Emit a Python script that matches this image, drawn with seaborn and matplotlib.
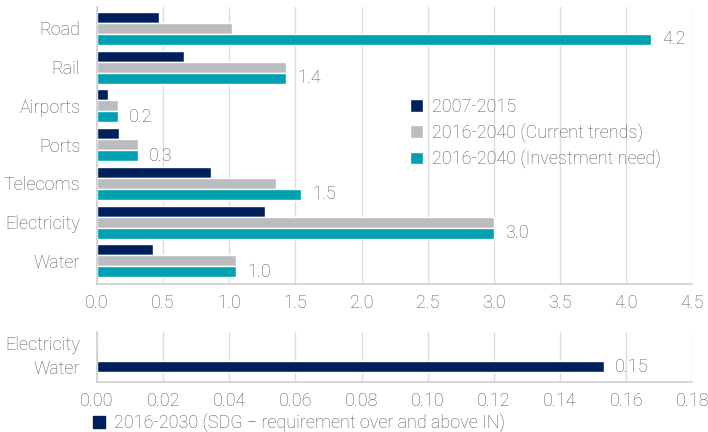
import pandas as pd
import seaborn as sns
import matplotlib.pyplot as plt

# valores
setores = ['Road', 'Rail', 'Airports', 'Ports', 'Telecoms', 'Electricity', 'Water']
periodos = ['2007-2015', '2016-2040 (Current trends)', '2016-2040 (Investment need)']
hist_2007_2015 = [0.47, 0.66, 0.08, 0.17, 0.86, 1.27, 0.42]
tendencia_2016_2040 = [1.02, 1.43, 0.16, 0.31, 1.35, 3.00, 1.05]
necessidade_2016_2040 = [4.19, 1.43, 0.16, 0.31, 1.54, 3.00, 1.05]
rotulos_necessidade = ['4.2', '1.4', '0.2', '0.3', '1.5', '3.0', '1.0']

setores_sdg = ['Electricity', 'Water']
sdg_2016_2030 = [0.0, 0.1532]
rotulos_sdg = ['', '0.15']
serie_sdg = '2016-2030 (SDG \u2212 requirement over and above IN)'

cores = ['#00205B', '#BBBCC0', '#00A0B0']
cinza_texto = '#595959'
cinza_grade = '#DEDEDE'
fs = 13

sns.set_theme(style='white')
plt.rcParams['font.family'] = ['Roboto', 'DejaVu Sans']
plt.rcParams['font.weight'] = 'light'

df = pd.DataFrame({
    'setor': setores * 3,
    'periodo': [p for p in periodos for _ in setores],
    'valor': hist_2007_2015 + tendencia_2016_2040 + necessidade_2016_2040,
})
df_sdg = pd.DataFrame({'setor': setores_sdg, 'valor': sdg_2016_2030})

fig = plt.figure(figsize=(7.08, 4.32), dpi=100)
ax_top = fig.add_axes([0.137, 0.343, 0.841, 0.641])
ax_bot = fig.add_axes([0.137, 0.116, 0.841, 0.116])

sns.barplot(data=df, y='setor', x='valor', hue='periodo', order=setores,
            hue_order=periodos, palette=cores, width=0.85, orient='h',
            saturation=1, ax=ax_top)
ax_top.bar_label(ax_top.containers[2], labels=rotulos_necessidade, padding=8,
                 color=cinza_texto, fontsize=fs, fontweight='light')

sns.barplot(data=df_sdg, y='setor', x='valor', order=setores_sdg,
            color=cores[0], width=0.46, orient='h', saturation=1, ax=ax_bot)
ax_bot.bar_label(ax_bot.containers[0], labels=rotulos_sdg, padding=8,
                 color=cinza_texto, fontsize=fs, fontweight='light')

for ax in (ax_top, ax_bot):
    ax.set_xlabel('')
    ax.set_ylabel('')
    ax.grid(axis='x', color=cinza_grade, linewidth=1)
    ax.grid(axis='y', visible=False)
    ax.set_axisbelow(True)
    for s in ('top', 'right'):
        ax.spines[s].set_visible(False)
    for s in ('left', 'bottom'):
        ax.spines[s].set_color('#CFCFCF')
        ax.spines[s].set_linewidth(1.2)
    ax.tick_params(axis='x', length=4, color='#CFCFCF', labelsize=fs,
                   labelcolor=cinza_texto, pad=3)
    ax.tick_params(axis='y', length=0, labelsize=fs, labelcolor=cinza_texto, pad=12)

ax_top.set_xlim(0, 4.5)
ax_top.set_xticks([i * 0.5 for i in range(10)])
ax_top.set_xticklabels([f'{i * 0.5:.1f}' for i in range(10)])
ax_top.set_ylim(6.59, -0.555)

ax_bot.set_xlim(0, 0.18)
ax_bot.set_xticks([i * 0.02 for i in range(10)])
ax_bot.set_xticklabels([f'{i * 0.02:.2f}' for i in range(10)])
ax_bot.set_ylim(1.63, -0.46)

ax_top.legend(loc='upper left', bbox_to_anchor=(0.514, 0.697), frameon=False,
              handlelength=0.7, handleheight=0.7, handletextpad=0.5,
              labelspacing=0.4, fontsize=fs, labelcolor=cinza_texto,
              borderaxespad=0)

h = plt.Rectangle((0, 0), 1, 1, color=cores[0])
fig.legend([h], [serie_sdg], loc='center left', bbox_to_anchor=(0.131, 0.021),
           frameon=False, handlelength=0.7, handleheight=0.7,
           handletextpad=0.5, fontsize=fs, labelcolor=cinza_texto,
           borderaxespad=0, borderpad=0)

fig.savefig('out.png', dpi=100)
